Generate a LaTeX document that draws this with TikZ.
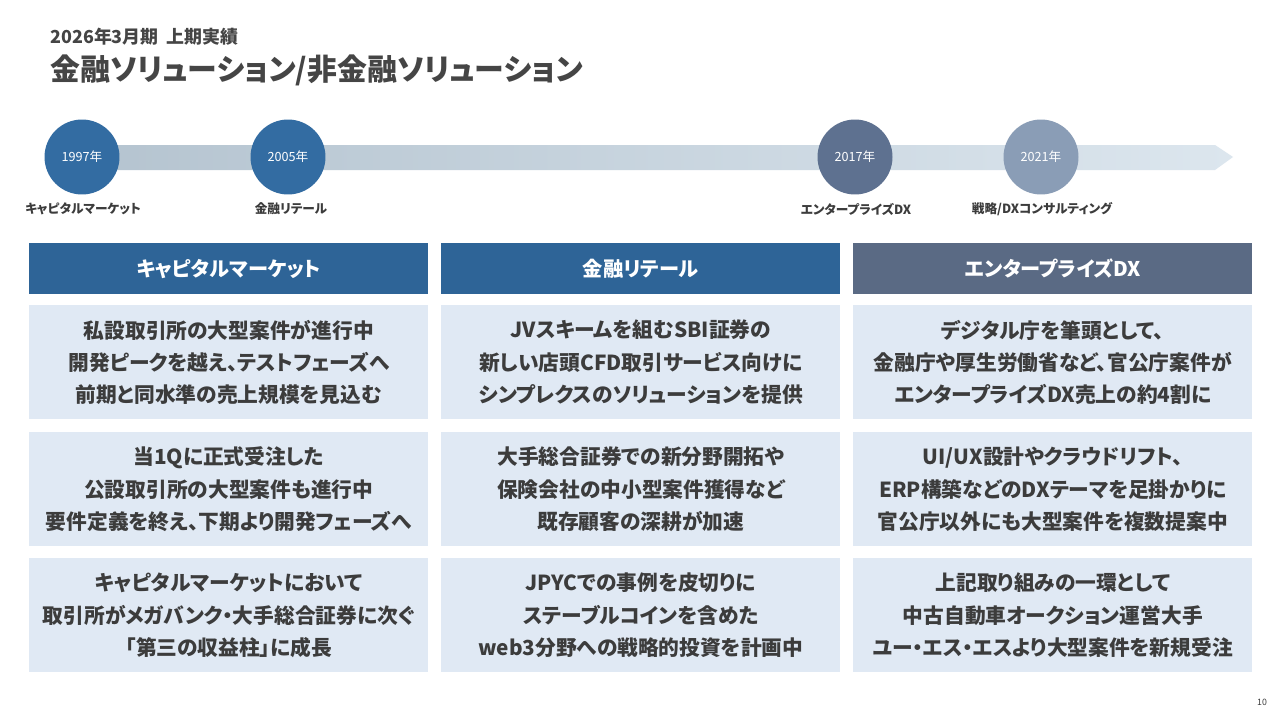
\documentclass[tikz,border=0pt]{standalone}
\usepackage{fontspec}
\setmainfont{Noto Sans CJK JP}[RawFeature=+palt]
\usepackage{tikz}
\usetikzlibrary{positioning}

\definecolor{headblue}{HTML}{2E6497}
\definecolor{headslate}{HTML}{5A6A84}
\definecolor{boxfill}{HTML}{E0E9F4}
\definecolor{textgray}{HTML}{3C3C3C}
\definecolor{titlegray}{HTML}{454545}
\definecolor{dotblue}{HTML}{336CA2}
\definecolor{dotslate}{HTML}{5E7190}
\definecolor{dotgray}{HTML}{8A9DB6}
\definecolor{barleft}{HTML}{B5C4D0}
\definecolor{barright}{HTML}{DCE6EE}

\begin{document}
\begin{tikzpicture}[x=0.02cm,y=-0.02cm,inner sep=0pt,
    year dot/.style={circle,minimum size=1.5cm,text=white,font=\fontsize{7.2}{8}\selectfont},
    year label/.style={text=textgray,font=\fontsize{7.2}{8}\selectfont\bfseries},
    head box/.style={anchor=north west,minimum width=7.98cm,minimum height=1.02cm,
                     text=white,font=\fontsize{11.5}{13}\selectfont\bfseries},
    info box/.style={anchor=north west,fill=boxfill,minimum width=7.98cm,minimum height=2.28cm,
                     align=center,text=textgray,font=\fontsize{11.8}{18.4}\selectfont\bfseries}]

  \useasboundingbox (0,0) rectangle (1280,720);
  \fill[white] (0,0) rectangle (1280,720);

  % heading
  \node[anchor=west,text=titlegray,font=\fontsize{10.2}{12}\selectfont\bfseries] (sub) at (50,37) {2026年3月期\ \ 上期実績};
  \node[anchor=west,text=titlegray,font=\fontsize{17}{19}\selectfont\bfseries] (title) at (50,70) {金融ソリューション/非金融ソリューション};

  % timeline
  \coordinate (barstart) at (95,157);
  \coordinate (bartip) at (1233,157);
  \shade[left color=barleft,right color=barright]
    (95,145) -- (1215,145) -- (bartip) -- (1215,170) -- (95,170) -- cycle;

  \node[year dot,fill=dotblue] (y1997) at (82,157) {1997年};
  \node[year dot,fill=dotblue] (y2005) at (288,157) {2005年};
  \node[year dot,fill=dotslate] (y2017) at (855,157) {2017年};
  \node[year dot,fill=dotgray] (y2021) at (1041,157) {2021年};

  \node[year label] (l1997) at (83,209) {キャピタルマーケット};
  \node[year label] (l2005) at (291,209) {金融リテール};
  \node[year label] (l2017) at (856,209) {エンタープライズDX};
  \node[year label] (l2021) at (1042,209) {戦略/DXコンサルティング};

  % column heads
  \node[head box,fill=headblue] (cm) at (29,243) {キャピタルマーケット};
  \node[head box,fill=headblue] (fr) at (441,243) {金融リテール};
  \node[head box,fill=headslate] (ed) at (853,243) {エンタープライズDX};

  % capital market
  \node[info box] (cm1) at (29,305) {私設取引所の大型案件が進行中\\開発ピークを越え、テストフェーズへ\\前期と同水準の売上規模を見込む};
  \node[info box] (cm2) at (29,432) {当1Qに正式受注した\\公設取引所の大型案件も進行中\\要件定義を終え、下期より開発フェーズへ};
  \node[info box] (cm3) at (29,558) {キャピタルマーケットにおいて\\取引所がメガバンク・大手総合証券に次ぐ\\「第三の収益柱」に成長};

  % financial retail
  \node[info box] (fr1) at (441,305) {JVスキームを組むSBI証券の\\新しい店頭CFD取引サービス向けに\\シンプレクスのソリューションを提供};
  \node[info box] (fr2) at (441,432) {大手総合証券での新分野開拓や\\保険会社の中小型案件獲得など\\既存顧客の深耕が加速};
  \node[info box] (fr3) at (441,558) {JPYCでの事例を皮切りに\\ステーブルコインを含めた\\web3分野への戦略的投資を計画中};

  % enterprise DX
  \node[info box] (ed1) at (853,305) {デジタル庁を筆頭として、\\金融庁や厚生労働省など、官公庁案件が\\エンタープライズDX売上の約4割に};
  \node[info box] (ed2) at (853,432) {UI/UX設計やクラウドリフト、\\ERP構築などのDXテーマを足掛かりに\\官公庁以外にも大型案件を複数提案中};
  \node[info box] (ed3) at (853,558) {上記取り組みの一環として\\中古自動車オークション運営大手\\ユー・エス・エスより大型案件を新規受注};

  \node[text=textgray,font=\fontsize{5}{6}\selectfont] (page) at (1262,702) {10};
\end{tikzpicture}
\end{document}
